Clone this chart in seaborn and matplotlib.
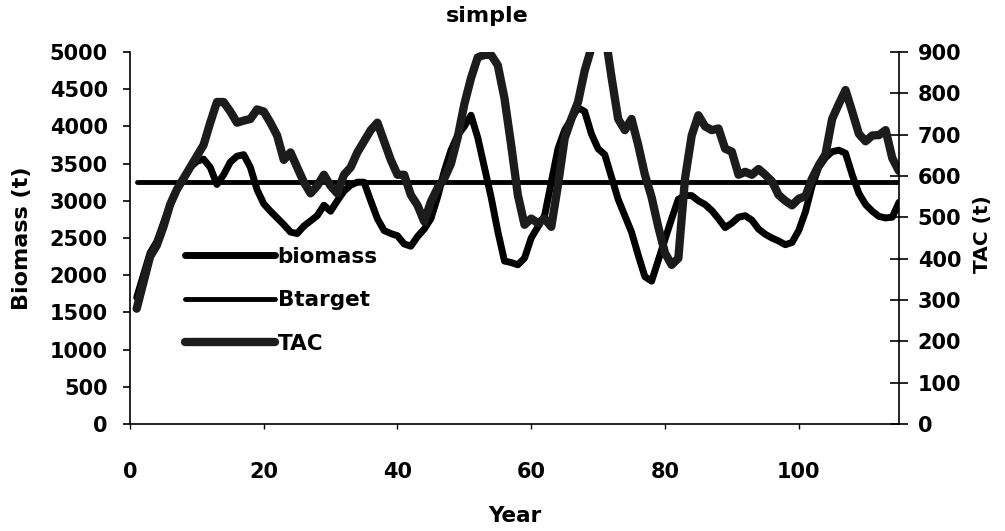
import numpy as np
import pandas as pd
import matplotlib
matplotlib.use("Agg")
import matplotlib.pyplot as plt
import seaborn as sns

# Simulated stock under the "simple" harvest rule
years = list(range(1, 116))

biomass = [1700, 2000, 2300, 2450, 2700, 2950, 3150, 3300, 3450, 3530,
           3560, 3450, 3220, 3350, 3520, 3600, 3620, 3450, 3150, 2960,
           2860, 2770, 2680, 2580, 2560, 2660, 2730, 2800, 2940, 2860,
           3000, 3130, 3210, 3250, 3250, 3000, 2760, 2600, 2560, 2530,
           2420, 2390, 2520, 2620, 2760, 3050, 3400, 3680, 3880, 4000,
           4150, 3850, 3450, 3050, 2590, 2190, 2170, 2140, 2230, 2500,
           2650, 2800, 3250, 3700, 3950, 4100, 4250, 4200, 3900, 3700,
           3620, 3320, 3020, 2800, 2580, 2270, 1980, 1920, 2200, 2480,
           2760, 3020, 3070, 3070, 3000, 2950, 2870, 2760, 2640, 2700,
           2780, 2800, 2740, 2620, 2550, 2500, 2460, 2410, 2440, 2600,
           2850, 3200, 3450, 3580, 3660, 3680, 3640, 3350, 3100, 2950,
           2860, 2790, 2770, 2780, 2980]

btarget_level = 3250
btarget = [btarget_level] * len(years)

tac = [279, 342, 405, 432, 477, 531, 567, 594, 621, 648,
       675, 729, 779, 779, 756, 729, 734, 738, 761, 756,
       729, 698, 639, 657, 621, 585, 558, 576, 603, 576,
       558, 603, 621, 657, 684, 711, 729, 684, 639, 603,
       603, 554, 529, 490, 538, 571, 594, 630, 693, 774,
       837, 887, 893, 893, 868, 788, 675, 554, 482, 497,
       486, 497, 477, 578, 691, 738, 779, 855, 910, 960,
       950, 840, 738, 711, 738, 675, 603, 549, 477, 414,
       385, 401, 594, 698, 747, 720, 711, 715, 666, 659,
       603, 610, 603, 617, 603, 587, 554, 540, 529, 545,
       551, 594, 626, 652, 738, 774, 808, 756, 702, 684,
       698, 699, 711, 643, 612]

biomass_ticks = list(range(0, 5001, 500))
tac_ticks = list(range(0, 901, 100))
year_ticks = [0, 20, 40, 60, 80, 100]

df = pd.DataFrame({"Year": years, "biomass": biomass,
                   "Btarget": btarget, "TAC": tac})

sns.set_style("white")
plt.rcParams["font.family"] = ["DejaVu Sans"]
plt.rcParams["font.weight"] = "bold"
plt.rcParams["text.color"] = "black"
plt.rcParams["axes.labelcolor"] = "black"
plt.rcParams["xtick.color"] = "black"
plt.rcParams["ytick.color"] = "black"

fig = plt.figure(figsize=(10.05, 5.31), dpi=100)
ax = fig.add_axes([130 / 1005, 1 - 424 / 531, (899 - 130) / 1005, (424 - 52) / 531])
ax2 = ax.twinx()

sns.lineplot(data=df, x="Year", y="biomass", ax=ax, color="black",
             linewidth=5, legend=False, label="biomass")
sns.lineplot(data=df, x="Year", y="Btarget", ax=ax, color="black",
             linewidth=3.5, legend=False, label="Btarget")
sns.lineplot(data=df, x="Year", y="TAC", ax=ax2, color="#1c1c1c",
             linewidth=6, legend=False, label="TAC")

ax.set_xlim(0, 115)
ax.set_ylim(0, 5000)
ax2.set_ylim(0, 900)
ax.set_xticks(year_ticks)
ax.set_yticks(biomass_ticks)
ax2.set_yticks(tac_ticks)

for a in (ax, ax2):
    a.grid(False)
    a.spines["top"].set_visible(False)
    for s in ("left", "right", "bottom"):
        a.spines[s].set_linewidth(1.2)
        a.spines[s].set_color("black")
ax.spines["right"].set_visible(False)
ax2.spines["left"].set_visible(False)
ax2.spines["bottom"].set_visible(False)

ax.tick_params(axis="x", direction="out", length=3.5, width=1, pad=24,
               labelsize=15, colors="black", bottom=True)
ax.tick_params(axis="y", direction="out", length=5, width=1.2, pad=11,
               labelsize=15, colors="black", left=True)
ax2.tick_params(axis="y", direction="inout", length=13, width=1.2, pad=7,
                labelsize=15, colors="black", right=True)
for lab in ax.get_xticklabels() + ax.get_yticklabels() + ax2.get_yticklabels():
    lab.set_fontweight("bold")

ax.set_xlabel("Year", fontsize=15.5, fontweight="bold", color="black")
ax.set_ylabel("Biomass (t)", fontsize=16, fontweight="bold", color="black")
ax2.set_ylabel("TAC (t)", fontsize=14.5, fontweight="bold", color="black")
ax.xaxis.label.set_va("center")
ax.xaxis.set_label_coords(0.5006, -0.247)
ax.yaxis.label.set_va("center")
ax.yaxis.set_label_coords(-0.1404, 0.5)
ax2.yaxis.label.set_va("center")
ax2.yaxis.label.set_rotation(90)
ax2.yaxis.set_label_coords(1.109, 0.51)

fig.text(487 / 1005, 1 - 16 / 531, "simple", ha="center", va="center",
         fontsize=16, fontweight="bold", color="black")

handles = ax.get_lines()[:2] + ax2.get_lines()[:1]
labels = ["biomass", "Btarget", "TAC"]
leg = ax2.legend(handles, labels, loc="upper left",
                 bbox_to_anchor=(185 / 1005, 1 - 247 / 531),
                 bbox_transform=fig.transFigure, frameon=False,
                 handlelength=4.2, handletextpad=0.1, labelspacing=1.08,
                 borderpad=0, borderaxespad=0,
                 prop={"size": 15.5, "weight": "bold"})
for t in leg.get_texts():
    t.set_color("black")

fig.savefig("out.png", dpi=100, facecolor="white")
